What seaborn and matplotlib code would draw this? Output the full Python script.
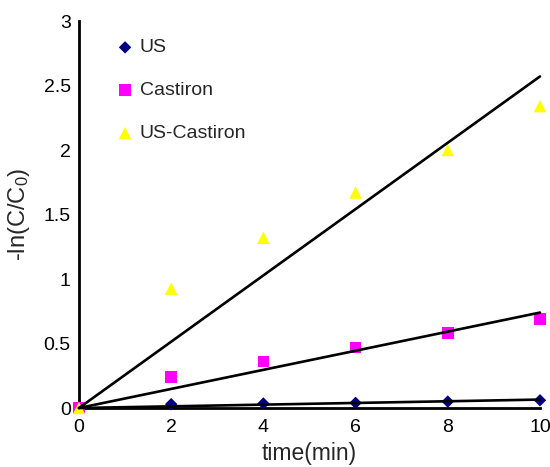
import numpy as np
import pandas as pd
import matplotlib
matplotlib.use("Agg")
import matplotlib.pyplot as plt
import seaborn as sns

time_min = [0, 2, 4, 6, 8, 10]
us = [0, 0.03, 0.035, 0.04, 0.05, 0.06]
castiron = [0, 0.24, 0.36, 0.47, 0.58, 0.69]
us_castiron = [0, 0.925, 1.32, 1.67, 2.0, 2.34]
series_names = ["US", "Castiron", "US-Castiron"]
colors = ["#000080", "#FF00FF", "#FFFF00"]
markers = ["D", "s", "^"]
marker_sizes = [40, 70, 80]

sns.set_style("white")
plt.rcParams["font.family"] = ["Liberation Sans", "DejaVu Sans"]
plt.rcParams["mathtext.fontset"] = "custom"
plt.rcParams["mathtext.rm"] = "Liberation Sans"
plt.rcParams["mathtext.it"] = "Liberation Sans"

rows = []
for name, vals in zip(series_names, [us, castiron, us_castiron]):
    for t, v in zip(time_min, vals):
        rows.append({"time": t, "value": v, "series": name})
df = pd.DataFrame(rows)

fig = plt.figure(figsize=(5.5, 4.67), dpi=100)
ax = fig.add_axes([0.1436, 0.1263, 0.8382, 0.8287])

for name, c, m, s in zip(series_names, colors, markers, marker_sizes):
    sub = df[df.series == name]
    sns.scatterplot(data=sub, x="time", y="value", color=c, marker=m, s=s,
                    edgecolor="none", ax=ax, label=name, clip_on=False, zorder=3)

# linear fits through the origin
xs = np.array([0, 10])
for name in series_names:
    sub = df[df.series == name]
    x = sub.time.values.astype(float)
    y = sub.value.values
    k = (x * y).sum() / (x * x).sum()
    ax.plot(xs, k * xs, color="black", lw=1.9, zorder=4, clip_on=False)

ax.set_xlim(0, 10)
ax.set_ylim(0, 3)
ax.set_xticks([0, 2, 4, 6, 8, 10])
ax.set_yticks([0, 0.5, 1, 1.5, 2, 2.5, 3])
ax.set_yticklabels(["0", "0.5", "1", "1.5", "2", "2.5", "3"])
ax.tick_params(axis="both", labelsize=14, colors="black")
ax.tick_params(axis="y", direction="in", length=6, width=2, pad=6)
ax.tick_params(axis="x", length=0, pad=8)
for side in ["top", "right"]:
    ax.spines[side].set_visible(False)
for side in ["left", "bottom"]:
    ax.spines[side].set_linewidth(2)
    ax.spines[side].set_color("black")

ax.set_xlabel("time(min)", fontsize=16.5, labelpad=4)
ax.set_ylabel("-ln(C/C$_0$)", fontsize=17, labelpad=8)

leg = ax.legend(loc="upper left", bbox_to_anchor=(0.062, 0.974), frameon=False,
                fontsize=14, labelspacing=1.3, handletextpad=0.25,
                handlelength=1.0, borderaxespad=0)

fig.savefig("out.png", dpi=100)
